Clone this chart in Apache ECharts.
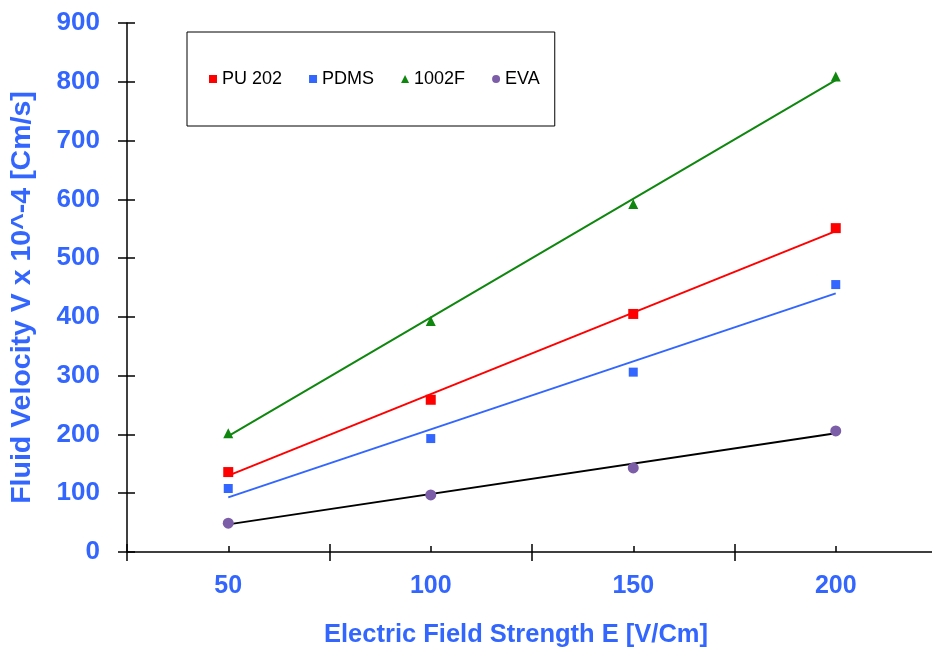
<!DOCTYPE html>
<html>
<head>
<meta charset="utf-8">
<script src="https://cdn.jsdelivr.net/npm/echarts@6/dist/echarts.min.js"></script>
<style>html,body{margin:0;padding:0;background:#fff}#c{width:932px;height:650px}</style>
</head>
<body>
<div id="c"></div>
<script>
// Data
var fieldStrength = [50, 100, 150, 200];
var pu202 = [136, 259, 405, 551];
var pdms = [108, 193, 306, 455];
var f1002 = [202, 393, 592, 809];
var eva = [49, 97, 143, 206];
// trend line end points (x = 50 and x = 200)
var trendX = [50, 200];
var pu202Trend = [130, 546];
var pdmsTrend = [93, 440];
var f1002Trend = [197, 803];
var evaTrend = [47, 202];
var yTicks = [0, 100, 200, 300, 400, 500, 600, 700, 800, 900];

function pairs(xs, ys) { return xs.map(function (x, i) { return [x, ys[i]]; }); }

var BLUE = '#3366FF';
var GREEN = '#0F870F';
var FONT = 'Liberation Sans, Arial, sans-serif';
var chart = echarts.init(document.getElementById('c'));

var xBase = { type: 'value', min: 25, max: 225, gridIndex: 0, position: 'bottom', splitLine: { show: false } };
var yBase = { type: 'value', min: yTicks[0], max: yTicks[yTicks.length - 1], interval: 100, gridIndex: 0, position: 'left', splitLine: { show: false } };
chart.setOption({
  backgroundColor: '#ffffff',
  animation: false,
  grid: { left: 127, top: 23, width: 810, height: 529, containLabel: false, outerBoundsMode: 'none' },
  legend: {
    left: 187, top: 32,
    padding: [38, 15, 38, 22],
    borderColor: '#000', borderWidth: 1, borderRadius: 0,
    backgroundColor: '#fff',
    itemWidth: 8, itemHeight: 8, itemGap: 27,
    textStyle: { fontFamily: FONT, fontSize: 18, color: '#000' },
    data: [
      { name: 'PU 202', icon: 'rect' },
      { name: 'PDMS', icon: 'rect' },
      { name: '1002F', icon: 'triangle' },
      { name: 'EVA', icon: 'circle' }
    ]
  },
  xAxis: [
    Object.assign({}, xBase, {
      interval: 25,
      axisLine: { show: true, onZero: false, lineStyle: { color: '#000', width: 1.5 } },
      axisTick: { show: true, inside: true, length: 6, lineStyle: { color: '#000', width: 1.5 } },
      axisLabel: {
        margin: 22, color: BLUE, fontFamily: FONT, fontWeight: 'bold', fontSize: 25,
        formatter: function (v) { return v % 50 === 0 ? String(v) : ''; }
      },
      name: 'Electric Field Strength E [V/Cm]',
      nameLocation: 'middle', nameGap: 70,
      nameTextStyle: { color: BLUE, fontFamily: FONT, fontWeight: 'bold', fontSize: 25.5, padding: [0, 32, 0, 0] }
    }),
    Object.assign({}, xBase, {
      interval: 50,
      axisLine: { show: false, onZero: false },
      axisTick: { show: true, inside: false, length: 9, lineStyle: { color: '#000', width: 1.5 } },
      axisLabel: { show: false }
    }),
    Object.assign({}, xBase, {
      interval: 50,
      axisLine: { show: false, onZero: false },
      axisTick: { show: true, inside: true, length: 8, lineStyle: { color: '#000', width: 1.5 } },
      axisLabel: { show: false }
    })
  ],
  yAxis: [
    Object.assign({}, yBase, {
      axisLine: { show: true, onZero: false, lineStyle: { color: '#000', width: 1.5 } },
      axisTick: { show: true, inside: false, length: 9, lineStyle: { color: '#000', width: 1.5 } },
      axisLabel: { margin: 27, color: BLUE, fontFamily: FONT, fontWeight: 'bold', fontSize: 26 },
      name: 'Fluid Velocity V x 10^-4 [Cm/s]',
      nameLocation: 'middle', nameGap: 90,
      nameTextStyle: { color: BLUE, fontFamily: FONT, fontWeight: 'bold', fontSize: 28.5, padding: [0, 20, 0, 0] }
    }),
    Object.assign({}, yBase, {
      axisLine: { show: false, onZero: false },
      axisTick: { show: true, inside: true, length: 8, lineStyle: { color: '#000', width: 1.5 } },
      axisLabel: { show: false }
    })
  ],
  series: [
    { name: 'PU 202 trend', type: 'line', data: pairs(trendX, pu202Trend), symbol: 'none', lineStyle: { color: '#FF0000', width: 2 }, z: 2 },
    { name: 'PDMS trend', type: 'line', data: pairs(trendX, pdmsTrend), symbol: 'none', lineStyle: { color: BLUE, width: 2 }, z: 2 },
    { name: '1002F trend', type: 'line', data: pairs(trendX, f1002Trend), symbol: 'none', lineStyle: { color: GREEN, width: 2 }, z: 2 },
    { name: 'EVA trend', type: 'line', data: pairs(trendX, evaTrend), symbol: 'none', lineStyle: { color: '#000000', width: 2 }, z: 2 },
    { name: 'PU 202', type: 'scatter', data: pairs(fieldStrength, pu202), symbol: 'rect', symbolSize: 10, itemStyle: { color: '#FF0000', opacity: 1 }, z: 3 },
    { name: 'PDMS', type: 'scatter', data: pairs(fieldStrength, pdms), symbol: 'rect', symbolSize: 9, itemStyle: { color: BLUE, opacity: 1 }, z: 3 },
    { name: '1002F', type: 'scatter', data: pairs(fieldStrength, f1002), symbol: 'triangle', symbolSize: 10, itemStyle: { color: GREEN, opacity: 1 }, z: 3 },
    { name: 'EVA', type: 'scatter', data: pairs(fieldStrength, eva), symbol: 'circle', symbolSize: 11, itemStyle: { color: '#7B5EA7', opacity: 1 }, z: 3 }
  ]
});
</script>
</body>
</html>
